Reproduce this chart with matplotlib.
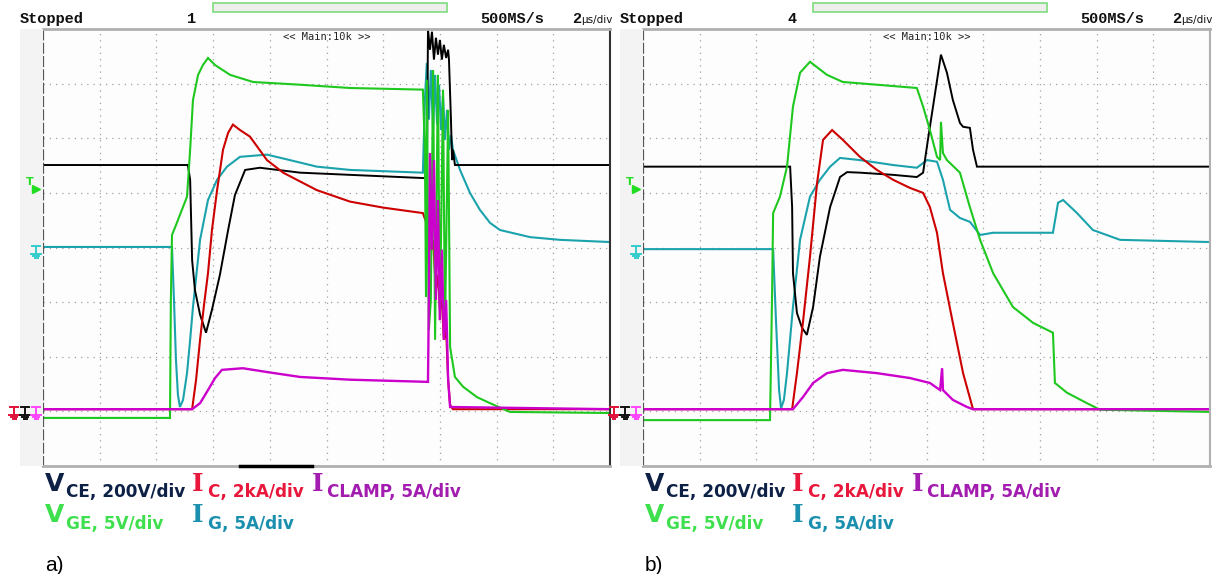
import matplotlib.pyplot as plt
from matplotlib.lines import Line2D
from matplotlib.patches import Rectangle

W, H = 1215, 574

# time in us from the left screen edge (2 us/div), level in screen divisions (0 = bottom, 8 = top)
# ---- a) ----
a_vce_t = [0, 5.11, 5.19, 5.26, 5.36, 5.54, 5.75, 5.96, 6.24, 6.53, 6.77, 7.13, 7.65, 9.07, 10.83, 12.59,
           13.47, 13.54, 13.58, 13.65, 13.72, 13.79, 13.86, 13.93, 14.0, 14.07, 14.14, 14.22, 14.29, 14.32,
           14.39, 14.43, 14.46, 14.53, 20]
a_vce_v = [5.51, 5.51, 5.24, 3.77, 3.22, 2.77, 2.44, 2.86, 3.50, 4.32, 4.96, 5.42, 5.46, 5.37, 5.33, 5.29,
           5.27, 5.27, 7.99, 7.62, 7.95, 7.44, 7.84, 7.53, 7.8, 7.44, 7.71, 7.47, 7.62, 7.44,
           6.34, 5.60, 5.79, 5.51, 5.51]

a_vge_t = [0, 4.48, 4.51, 4.55, 4.69, 4.90, 5.08, 5.19, 5.29, 5.47, 5.64, 5.82, 6.07, 6.6, 7.41, 9.07, 10.83,
           13.4, 13.47, 13.51, 13.54, 13.61, 13.68, 13.76, 13.83, 13.93, 14.0, 14.11, 14.18, 14.29, 14.36,
           14.53, 14.82, 15.31, 15.77, 16.47, 20]
a_vge_v = [0.88, 0.88, 3.04, 4.23, 4.41, 4.69, 4.93, 5.79, 6.70, 7.16, 7.34, 7.47, 7.34, 7.16, 7.03, 6.98, 6.92,
           6.89, 5.79, 3.10, 7.07, 2.49, 3.04, 7.25, 2.31, 7.16, 2.67, 6.89, 2.49, 6.52, 2.18,
           1.63, 1.45, 1.26, 1.15, 0.99, 0.97]

a_ic_t = [0, 5.26, 5.40, 5.54, 5.68, 5.82, 5.96, 6.14, 6.35, 6.53, 6.70, 6.95, 7.30, 7.90, 8.47, 9.66, 10.83,
          12.0, 13.4, 13.51, 13.58, 13.69, 13.76, 13.86, 13.93, 14.0, 14.07, 14.14, 14.22, 14.29, 14.36,
          14.46, 20]
a_ic_v = [1.04, 1.04, 1.58, 2.31, 2.95, 3.53, 4.32, 5.05, 5.79, 6.10, 6.25, 6.15, 6.03, 5.60, 5.37, 5.05, 4.84,
          4.73, 4.63, 4.47, 4.14, 3.96, 4.14, 3.22, 3.50, 2.86, 3.04, 2.31, 2.49, 1.58, 1.12,
          1.04, 1.04]

a_ig_t = [0, 4.55, 4.62, 4.69, 4.76, 4.83, 4.94, 5.08, 5.19, 5.29, 5.54, 5.82, 6.14, 6.49, 6.95, 7.90, 8.71,
          9.66, 10.83, 13.4, 13.47, 13.54, 13.61, 13.68, 13.76, 13.83, 13.90, 13.97, 14.04, 14.11, 14.18,
          14.25, 14.32, 14.39, 14.46, 14.71, 15.06, 15.41, 15.77, 16.12, 17.18, 18.24, 20]
a_ig_v = [4.01, 4.01, 3.04, 1.94, 1.30, 1.08, 1.21, 1.70, 2.31, 2.91, 4.14, 4.87, 5.24, 5.48, 5.66, 5.70, 5.60,
          5.48, 5.42, 5.37, 6.70, 7.38, 6.34, 7.25, 6.15, 7.16, 6.25, 6.98, 6.15, 6.80, 5.97,
          6.52, 5.79, 6.06, 5.79, 5.42, 5.0, 4.69, 4.45, 4.32, 4.19, 4.14, 4.10]

a_iclamp_t = [0, 5.26, 5.54, 5.82, 6.07, 6.31, 7.05, 7.90, 9.07, 10.83, 13.58, 13.61, 13.65, 13.72, 13.79,
              13.86, 13.93, 14.0, 14.07, 14.14, 14.22, 14.29, 14.36, 20]
a_iclamp_v = [1.04, 1.04, 1.15, 1.39, 1.61, 1.76, 1.79, 1.72, 1.63, 1.58, 1.54, 3.04, 5.73, 3.96, 5.60,
              3.04, 4.87, 2.67, 3.96, 2.31, 3.04, 1.58, 1.08, 1.04]

# ---- b) ----
b_vce_t = [0, 5.19, 5.26, 5.29, 5.43, 5.61, 5.78, 6.0, 6.24, 6.6, 6.95, 7.20, 7.65, 8.82, 9.66, 9.88, 10.05,
           10.23, 10.51, 10.72, 10.93, 11.18, 11.29, 11.53, 11.64, 11.78, 20]
b_vce_v = [5.48, 5.48, 4.74, 3.53, 2.80, 2.53, 2.40, 2.91, 3.83, 4.74, 5.29, 5.38, 5.37, 5.33, 5.29, 5.37, 5.97,
           6.58, 7.53, 7.20, 6.70, 6.28, 6.21, 6.19, 5.79, 5.48, 5.48]

b_vge_t = [0, 4.48, 4.55, 4.59, 4.83, 5.08, 5.29, 5.54, 5.89, 6.49, 7.05, 8.25, 9.66, 9.88, 10.12, 10.37, 10.48,
           10.51, 10.58, 10.72, 11.18, 11.53, 11.89, 12.35, 13.05, 13.76, 14.46, 14.53, 14.96, 15.66, 16.12, 20]
b_vge_v = [0.84, 0.84, 3.04, 4.63, 4.93, 5.48, 6.58, 7.20, 7.40, 7.16, 7.03, 6.98, 6.92, 6.58, 6.15, 5.66, 5.60,
           6.30, 5.73, 5.60, 5.37, 4.74, 4.14, 3.53, 2.91, 2.62, 2.44, 1.52, 1.34, 1.15, 1.03, 0.99]

b_ic_t = [0, 5.26, 5.43, 5.64, 5.89, 6.14, 6.35, 6.67, 7.05, 7.65, 8.25, 8.82, 9.42, 9.88, 10.12, 10.37, 10.58,
          10.93, 11.29, 11.64, 20]
b_ic_v = [1.04, 1.04, 1.70, 2.62, 3.83, 5.18, 5.97, 6.15, 5.97, 5.66, 5.42, 5.24, 5.09, 5.0, 4.74, 4.27, 3.53,
          2.62, 1.70, 1.04, 1.04]

b_ig_t = [0, 4.59, 4.69, 4.80, 4.87, 4.97, 5.08, 5.29, 5.54, 5.89, 6.24, 6.6, 6.95, 7.65, 8.82, 9.66, 10.02,
          10.37, 10.58, 10.83, 11.18, 11.53, 11.89, 12.35, 14.46, 14.64, 14.82, 15.31, 15.87, 16.83, 20]
b_ig_v = [3.97, 3.97, 2.67, 1.39, 1.06, 1.21, 1.70, 2.91, 4.14, 4.93, 5.24, 5.48, 5.64, 5.60, 5.51, 5.46, 5.60,
          5.57, 5.24, 4.69, 4.54, 4.47, 4.23, 4.27, 4.27, 4.82, 4.87, 4.63, 4.32, 4.14, 4.10]

b_iclamp_t = [0, 5.29, 5.64, 6.0, 6.49, 7.05, 8.25, 9.42, 10.12, 10.48, 10.55, 10.58, 10.93, 11.43, 11.64, 20]
b_iclamp_v = [1.04, 1.04, 1.26, 1.52, 1.70, 1.76, 1.70, 1.61, 1.52, 1.39, 1.79, 1.39, 1.21, 1.08, 1.04, 1.04]

panel_labels = ["a)", "b)"]
run_numbers = ["1", "4"]

C_VCE, C_VGE, C_IC, C_IG, C_CLAMP = "#000000", "#1ec81e", "#cc0000", "#1ba3ad", "#cc00cc"


def fx(x):
    return x / W


def fy(y):
    return 1 - y / H


def ground_mark(fig, x, y, color):
    kw = dict(color=color, lw=1.4, transform=fig.transFigure)
    fig.add_artist(Line2D([fx(x - 4), fx(x + 4)], [fy(y - 6), fy(y - 6)], **kw))
    fig.add_artist(Line2D([fx(x), fx(x)], [fy(y - 6), fy(y + 2)], **kw))
    fig.add_artist(Line2D([fx(x - 5), fx(x + 5)], [fy(y + 2), fy(y + 2)], **kw))
    fig.add_artist(Line2D([fx(x - 3), fx(x + 3)], [fy(y + 4), fy(y + 4)], **kw))
    fig.add_artist(Line2D([fx(x - 1.5), fx(x + 1.5)], [fy(y + 6), fy(y + 6)], **kw))


def draw_panel(fig, left, traces, run, label, black_bar):
    top, bottom, width = 29, 466, 567
    fig.add_artist(Rectangle((fx(left - 23), fy(bottom)), fx(23), (bottom - top) / H,
                             transform=fig.transFigure, color="#f3f3f3", lw=0))
    ax = fig.add_axes([fx(left), fy(bottom), fx(width), (bottom - top) / H])
    ax.set_facecolor("#fdfdfd")
    ax.set_xlim(0, 20)
    ax.set_ylim(0, 8)
    for gx in range(2, 20, 2):
        ax.axvline(gx, color="#a0a0a0", lw=0.9, ls=(0, (1, 4)), zorder=0)
    for gy in range(1, 8):
        ax.axhline(gy, color="#a0a0a0", lw=0.9, ls=(0, (1, 4)), zorder=0)
    ax.set_xticks([])
    ax.set_yticks([])
    ax.spines["left"].set(color="#555555", lw=1.6, ls=(0, (4, 2)))
    ax.spines["top"].set(color="#b0b0b0", lw=2)
    ax.spines["bottom"].set(color="#b0b0b0", lw=2)
    ax.spines["right"].set(color="#333333" if black_bar else "#b0b0b0", lw=1.5)

    for (t, v, c, lw) in traces:
        ax.plot(t, v, color=c, lw=lw, solid_joinstyle="miter")

    ax.text(10, 7.85, "<< Main:10k >>", ha="center", va="center", fontsize=7.5,
            family="DejaVu Sans Mono", color="#222222")
    if black_bar:
        fig.add_artist(Line2D([fx(240), fx(312)], [fy(466), fy(466)], color="black", lw=2.5,
                              transform=fig.transFigure))

    # header line
    hdr = dict(family="Liberation Mono", fontweight="bold", fontsize=11, va="center", color="#111111")
    fig.text(fx(left - 23), fy(19), "Stopped", **hdr)
    fig.text(fx(left + 144), fy(19), run, **hdr)
    fig.text(fx(left + 437), fy(19), "500MS/s", **hdr)
    fig.text(fx(left + 529), fy(19), "2", **hdr)
    fig.text(fx(left + 538), fy(20), "\u03bcs/div", family="DejaVu Sans", fontsize=7.5,
             va="center", color="#111111")
    fig.add_artist(Rectangle((fx(left + 170), fy(12)), fx(234), 9 / H, transform=fig.transFigure,
                             facecolor="#eeeeee", edgecolor="#7fdc7f", lw=1.2))

    # screen markers
    fig.text(fx(left - 13), fy(187), "T", color="#22dd22", fontsize=8, fontweight="bold",
             ha="center", va="bottom")
    fig.add_artist(Line2D([fx(left - 7)], [fy(189)], marker=">", ms=6, color="#22dd22",
                          transform=fig.transFigure))
    ground_mark(fig, left - 7, 252, "#33cccc")
    ground_mark(fig, left - 29, 413, "#e0103a")
    ground_mark(fig, left - 18, 413, "#111111")
    ground_mark(fig, left - 7, 413, "#ff44ff")

    # channel legend
    big = dict(fontsize=18, fontweight="bold", va="baseline", family="DejaVu Sans")
    big_i = dict(fontsize=18, fontweight="bold", va="baseline", family="DejaVu Serif")
    sub = dict(fontsize=12.2, fontweight="bold", va="baseline", family="DejaVu Sans")
    fig.text(fx(left + 2), fy(491), "V", color="#0d2147", **big)
    fig.text(fx(left + 23), fy(497), "CE, 200V/div", color="#0d2147", **sub)
    fig.text(fx(left + 149), fy(491), "I", color="#e8173c", **big_i)
    fig.text(fx(left + 165), fy(497), "C, 2kA/div", color="#e8173c", **sub)
    fig.text(fx(left + 269), fy(491), "I", color="#a21caf", **big_i)
    fig.text(fx(left + 284), fy(497), "CLAMP, 5A/div", color="#a21caf", **sub)
    fig.text(fx(left + 2), fy(522), "V", color="#3ee04e", **big)
    fig.text(fx(left + 23), fy(529), "GE, 5V/div", color="#3ee04e", **sub)
    fig.text(fx(left + 149), fy(522), "I", color="#1b8fae", **big_i)
    fig.text(fx(left + 165), fy(529), "G, 5A/div", color="#1b8fae", **sub)
    fig.text(fx(left + 2), fy(571), label, fontsize=15, family="Liberation Sans", va="baseline")


fig = plt.figure(figsize=(W / 100, H / 100), dpi=100)
fig.patch.set_facecolor("white")

traces_a = [
    (a_ig_t, a_ig_v, C_IG, 1.5),
    (a_vce_t, a_vce_v, C_VCE, 1.4),
    (a_ic_t, a_ic_v, C_IC, 1.5),
    (a_vge_t, a_vge_v, C_VGE, 1.5),
    (a_iclamp_t, a_iclamp_v, C_CLAMP, 1.7),
]
traces_b = [
    (b_ig_t, b_ig_v, C_IG, 1.5),
    (b_vce_t, b_vce_v, C_VCE, 1.4),
    (b_ic_t, b_ic_v, C_IC, 1.5),
    (b_vge_t, b_vge_v, C_VGE, 1.5),
    (b_iclamp_t, b_iclamp_v, C_CLAMP, 1.7),
]

draw_panel(fig, 43, traces_a, run_numbers[0], panel_labels[0], True)
draw_panel(fig, 643, traces_b, run_numbers[1], panel_labels[1], False)

fig.savefig("out.png", dpi=100)
